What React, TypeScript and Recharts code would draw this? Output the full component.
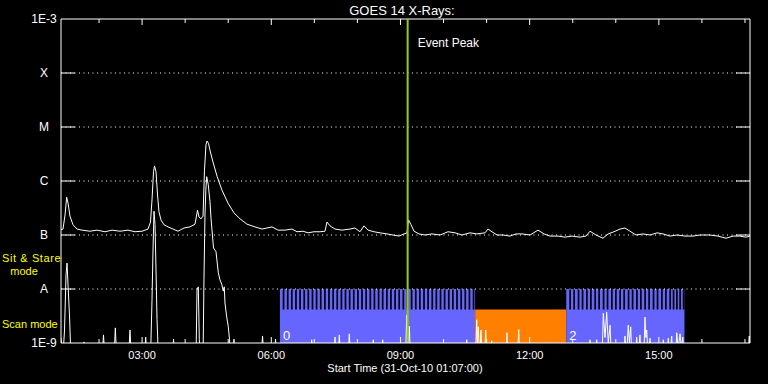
import React from 'react'
import { LineChart, Line, XAxis, YAxis, ReferenceLine, ReferenceArea } from 'recharts'

// x: minutes after 31-Oct-10 01:07:00, y: log10 of the flux (W/m^2)
const START_MIN = 67

const levelTicks = [-9, -8, -7, -6, -5, -4, -3]
const levelNames = ['1E-9', 'A', 'B', 'C', 'M', 'X', '1E-3']
const gridLevels = [-8, -7, -6, -5, -4]

const hourTicks = [53, 113, 173, 233, 293, 353, 413, 473, 533, 593, 653, 713, 773, 833, 893, 953]
const labelTicks = [113, 293, 473, 653, 833]

const eventPeak = 483

// observing windows: scan / sit & stare / scan
const scanA = [305, 577]
const stare = [577, 704]
const scanB = [704, 868.7]
const stareTop = -8.38

const scanGapsA = [
  308.9, 314.7, 320.4, 326.2, 331.9, 337.7, 343.4, 349.2, 354.9, 360.7, 366.5, 372.2,
  378.0, 383.7, 389.5, 395.2, 401.0, 406.7, 412.5, 418.2, 424.0, 429.8, 435.5, 441.3,
  447.0, 452.8, 458.5, 464.3, 470.0, 475.8, 481.5, 487.3, 493.1, 498.8, 504.6, 510.3,
  516.1, 521.8, 527.6, 533.3, 539.1, 544.8, 550.6, 556.4, 562.1, 567.9, 573.6,
]
const scanGapsB = [
  708.2, 713.8, 719.9, 725.5, 731.5, 737.1, 743.1, 748.6, 754.8, 760.3, 766.3, 771.9,
  777.9, 783.5, 789.6, 795.2, 801.2, 806.7, 812.7, 818.3, 824.4, 830.0, 836.0, 841.6,
  847.6, 852.3, 856.9, 861.5, 866.3,
]

// 1-8 Angstrom channel
const longChannel: [number, number][] = [
  [0, -6.9], [2.8, -6.89], [5.6, -6.63], [7.9, -6.3], [9.8, -6.41], [12.5, -6.65], [16.7, -6.81],
  [22.3, -6.89], [29.3, -6.91], [40.4, -6.93], [50.2, -6.91], [61.3, -6.94], [71.1, -6.91],
  [82.2, -6.93], [93.4, -6.91], [103.1, -6.94], [112.9, -6.93], [121.2, -6.89], [124.7, -6.76],
  [126.8, -6.35], [128.9, -5.83], [130.3, -5.72], [132.4, -5.83], [134.5, -6.26], [136.5, -6.57],
  [139.3, -6.72], [143.5, -6.81], [149.1, -6.85], [156.1, -6.89], [163, -6.93], [171.4, -6.87],
  [179.7, -6.85], [186.7, -6.8], [190.2, -6.54], [192.3, -6.67], [195.1, -6.7], [197.9, -6.65],
  [199.9, -5.8], [202, -5.33], [203.4, -5.26], [205.5, -5.3], [207.6, -5.43], [211.8, -5.65],
  [217.4, -5.91], [224.3, -6.17], [232.7, -6.41], [241, -6.59], [249.4, -6.7], [259.2, -6.8],
  [270.3, -6.85], [280.1, -6.89], [287, -6.87], [294, -6.85], [302.4, -6.91], [312.1, -6.91],
  [321.9, -6.89], [328.8, -6.94], [337.2, -6.93], [344.2, -6.96], [352.5, -6.94], [360.9, -6.94],
  [367.8, -6.93], [370.6, -6.76], [374.8, -6.83], [381.8, -6.89], [391.5, -6.91], [402.7, -6.89],
  [409.6, -6.87], [416.6, -6.94], [422.2, -6.83], [427.8, -6.91], [436.1, -6.94], [444.5, -6.96],
  [454.2, -6.98], [462.6, -7.0], [471, -7.02], [477.9, -6.98], [482.1, -6.96], [484.2, -6.72],
  [487.7, -6.81], [491.9, -6.93], [498.8, -6.98], [507.2, -7.0], [516.9, -6.98], [528.1, -7.0],
  [539.2, -6.94], [549, -6.96], [558.7, -7.0], [569.9, -6.96], [579.6, -6.98], [590.8, -6.96],
  [595, -6.89], [600.6, -6.94], [607.5, -7.0], [615.9, -7.0], [625.6, -7.02], [634, -6.98],
  [642.3, -6.98], [653.5, -7.0], [664.6, -6.91], [673, -6.98], [681.4, -7.02], [692.5, -7.02],
  [702.2, -7.04], [712, -7.02], [723.1, -7.04], [731.5, -7.02], [737.1, -6.93], [745.4, -7.0],
  [755.2, -7.06], [762.2, -6.98], [770.5, -6.94], [778.9, -6.89], [785.8, -6.87], [792.8, -6.93],
  [801.2, -7.0], [810.9, -6.98], [820.7, -7.0], [830.4, -6.96], [838.8, -6.98], [848.5, -7.02],
  [858.3, -7.0], [869.4, -7.02], [880.6, -7.02], [890.3, -7.0], [904.3, -7.0], [915.4, -7.02],
  [926.6, -7.06], [936.3, -7.02], [946.1, -7.02], [954.4, -7.04], [960, -7.02],
]

// 0.5-4 Angstrom channel (-9.3 = below the plot floor)
const shortChannel: [number, number][] = [
  [0, -8.91], [2.5, -9.3], [4.9, -8.76], [7, -7.74], [8.4, -7.52], [9.8, -7.93], [11.8, -8.48], [13.9, -9.3],
  [30.6, -9.3], [32, -8.98], [33.4, -9.3],
  [57.1, -9.3], [59.2, -8.85], [61.3, -9.3],
  [73.8, -9.3], [75.7, -8.72], [77.6, -9.3],
  [94, -9.3], [96.1, -8.76], [98.2, -9.3],
  [116.3, -9.3], [118, -8.89], [119.8, -9.3],
  [124.7, -9.3], [126.8, -8.2], [128.2, -7.28], [129.6, -6.56], [131, -6.81], [132.4, -7.65], [133.8, -8.57], [135.8, -9.3],
  [155.4, -9.3], [156.8, -8.93], [158.2, -9.3],
  [188.1, -9.3], [189.5, -8.02], [191.3, -7.96], [192.7, -8.94], [194.4, -9.3],
  [197.9, -9.3], [199.2, -7.83], [200.6, -6.63], [201.8, -6.17], [203, -5.92], [205.2, -6.07],
  [207.6, -6.38], [209, -6.69], [212.5, -7.24], [216, -7.31], [219.2, -7.7], [221.5, -7.83],
  [223.9, -7.91], [226.1, -8.04], [227.5, -7.96], [228.5, -8.26], [230.9, -8.52], [233.1, -8.7],
  [234.8, -8.94], [236.9, -9.3],
  [239.7, -9.3], [241, -8.93], [242.4, -9.3],
  [278.7, -9.3], [280.8, -8.87], [282.9, -9.3],
  [296.8, -9.3], [298.9, -8.93], [301, -9.3],
  [347.5, -9.3], [349.3, -8.94], [351, -9.3],
  [380, -9.3], [381.8, -8.89], [383.5, -9.3], [386, -9.3], [387.8, -8.85], [389.5, -9.3],
  [400, -9.3], [401.7, -8.83], [403.4, -9.3],
  [433.4, -9.3], [435.1, -8.94], [436.8, -9.3],
  [446.5, -9.3], [448.2, -8.94], [449.9, -9.3],
  [480, -9.3], [481.7, -8.48], [483.3, -9.3], [485.3, -8.69], [487, -9.3],
  [563.6, -9.3], [565.3, -8.94], [567, -9.3],
  [577.5, -9.3], [579.2, -8.57], [580.3, -9.0], [581.4, -8.7], [583.3, -9.3], [585.2, -8.76], [587, -9.3],
  [590, -9.3], [591.8, -8.76], [593.5, -9.3],
  [598.4, -9.3], [600.1, -8.96], [601.8, -9.3],
  [619.7, -9.3], [621.4, -8.81], [623.1, -9.3],
  [636, -9.3], [637.7, -8.75], [639.4, -9.3],
  [735.4, -9.3], [737.1, -8.94], [738.8, -9.3],
  [744.7, -9.3], [746.4, -8.94], [748.1, -9.3],
  [753.9, -9.3], [755.6, -8.45], [758, -8.9], [760.3, -8.43], [762.5, -9.0], [765, -8.67], [767, -9.3],
  [784, -9.3], [785.8, -8.87], [787.8, -9.3], [790.4, -8.67], [792, -9.0], [793.8, -8.7], [795.5, -9.3],
  [800.4, -9.3], [802.1, -8.89], [804, -9.3], [806.7, -8.85], [808.5, -9.3],
  [812, -9.3], [813.7, -8.52], [815, -8.9], [816.1, -8.76], [818, -9.3], [820.7, -8.91], [822.4, -9.3],
  [837.5, -9.3], [839.2, -8.94], [841, -9.3],
  [844.5, -9.3], [846.2, -8.91], [848, -9.3], [850.9, -8.87], [852.6, -9.3],
  [856.2, -9.3], [857.9, -8.81], [860, -9.1], [862.5, -8.83], [864.5, -9.1], [866.3, -8.89], [868, -9.3],
  [957, -9.3], [959, -8.87], [960, -9.3],
]

const longData = longChannel.map(([t, v]) => ({ t, v }))
const shortData = shortChannel.map(([t, v]) => ({ t, v }))

const BLUE = '#6666ff'
const ORANGE = '#ff8000'
const GREEN = '#99cc00'
const YELLOW = '#ffff00'
const GAP_W = 2.4 // minutes
const Y_TICK = 19.5 // minutes
const MINOR = 0.074 // decades
const MAJOR = 0.111

function clock(min: number): string {
  const m = START_MIN + min
  const h = Math.floor(m / 60)
  const mm = Math.round(m % 60)
  return `${String(h).padStart(2, '0')}:${String(mm).padStart(2, '0')}`
}

function LevelTick(props: any) {
  const { y, payload } = props
  const name = levelNames[levelTicks.indexOf(payload.value)]
  return (
    <text x={44} y={y} fill="#fff" fontSize={12} textAnchor="middle" dominantBaseline="central">
      {name}
    </text>
  )
}

function EventPeakLabel(props: any) {
  const { viewBox } = props
  return (
    <text x={viewBox.x + 10} y={viewBox.y + 24} fill="#fff" fontSize={12} dominantBaseline="central">
      Event Peak
    </text>
  )
}

export default function App(): React.ReactElement {
  return (
    <div style={{ position: 'fixed', left: 0, top: 0, width: 768, height: 384, background: '#000', fontFamily: '"Liberation Sans", Arial, sans-serif' }}>
      <LineChart width={768} height={384} margin={{ top: 19, right: 18, bottom: 0, left: 0 }}>
        <XAxis
          type="number"
          dataKey="t"
          domain={[0, 960]}
          ticks={labelTicks}
          tickFormatter={clock}
          tickLine={false}
          axisLine={{ stroke: '#fff' }}
          tick={{ fill: '#fff', fontSize: 11 }}
          height={41}
          allowDataOverflow
        />
        <YAxis
          type="number"
          domain={[-9, -3]}
          ticks={levelTicks}
          tick={LevelTick}
          tickLine={false}
          axisLine={{ stroke: '#fff' }}
          width={61}
          allowDataOverflow
        />

        <ReferenceArea x1={scanA[0]} x2={scanA[1]} y1={-9} y2={-8} fill={BLUE} fillOpacity={1}
          label={{ value: '0', position: 'insideBottomLeft', offset: 3, fill: '#fff', fontSize: 13 }} />
        <ReferenceArea x1={stare[0]} x2={stare[1]} y1={-9} y2={stareTop} fill={ORANGE} fillOpacity={1} />
        <ReferenceArea x1={scanB[0]} x2={scanB[1]} y1={-9} y2={-8} fill={BLUE} fillOpacity={1}
          label={{ value: '2', position: 'insideBottomLeft', offset: 3, fill: '#fff', fontSize: 13 }} />
        {[...scanGapsA, ...scanGapsB].map((g) => (
          <ReferenceArea key={g} x1={g} x2={g + GAP_W} y1={stareTop} y2={-8} fill="#000" fillOpacity={1} />
        ))}

        {gridLevels.map((l) => (
          <ReferenceLine key={'g' + l} y={l} stroke="#fff" strokeDasharray="1 3.5" />
        ))}
        {gridLevels.map((l) => (
          <ReferenceLine key={'l' + l} segment={[{ x: 0, y: l }, { x: Y_TICK, y: l }]} stroke="#fff" />
        ))}
        {gridLevels.map((l) => (
          <ReferenceLine key={'r' + l} segment={[{ x: 960 - Y_TICK, y: l }, { x: 960, y: l }]} stroke="#fff" />
        ))}
        {hourTicks.map((h) => {
          const len = labelTicks.includes(h) ? MAJOR : MINOR
          return (
            <React.Fragment key={'h' + h}>
              <ReferenceLine segment={[{ x: h, y: -3 }, { x: h, y: -3 - len }]} stroke="#fff" />
              <ReferenceLine segment={[{ x: h, y: -9 }, { x: h, y: -9 + len }]} stroke="#fff" />
            </React.Fragment>
          )
        })}
        <ReferenceLine y={-3} stroke="#fff" />
        <ReferenceLine x={960} stroke="#fff" />

        <Line data={shortData} dataKey="v" type="linear" stroke="#fff" strokeWidth={1} dot={false} isAnimationActive={false} />
        <Line data={longData} dataKey="v" type="linear" stroke="#fff" strokeWidth={1} dot={false} isAnimationActive={false} />

        <ReferenceLine x={eventPeak} stroke={GREEN} strokeWidth={2} label={EventPeakLabel} />

        <text x={402} y={10} fill="#fff" fontSize={13} textAnchor="middle" dominantBaseline="central">
          GOES 14 X-Rays:
        </text>
        <text x={405} y={368} fill="#fff" fontSize={11} textAnchor="middle" dominantBaseline="central">
          Start Time (31-Oct-10 01:07:00)
        </text>
        <text x={2} y={258} fill={YELLOW} fontSize={11} letterSpacing={0.6} dominantBaseline="central">Sit &amp; Stare</text>
        <text x={24} y={271} fill={YELLOW} fontSize={11} textAnchor="middle" dominantBaseline="central">mode</text>
        <text x={2} y={324} fill={YELLOW} fontSize={11} dominantBaseline="central">Scan mode</text>
      </LineChart>
    </div>
  )
}
